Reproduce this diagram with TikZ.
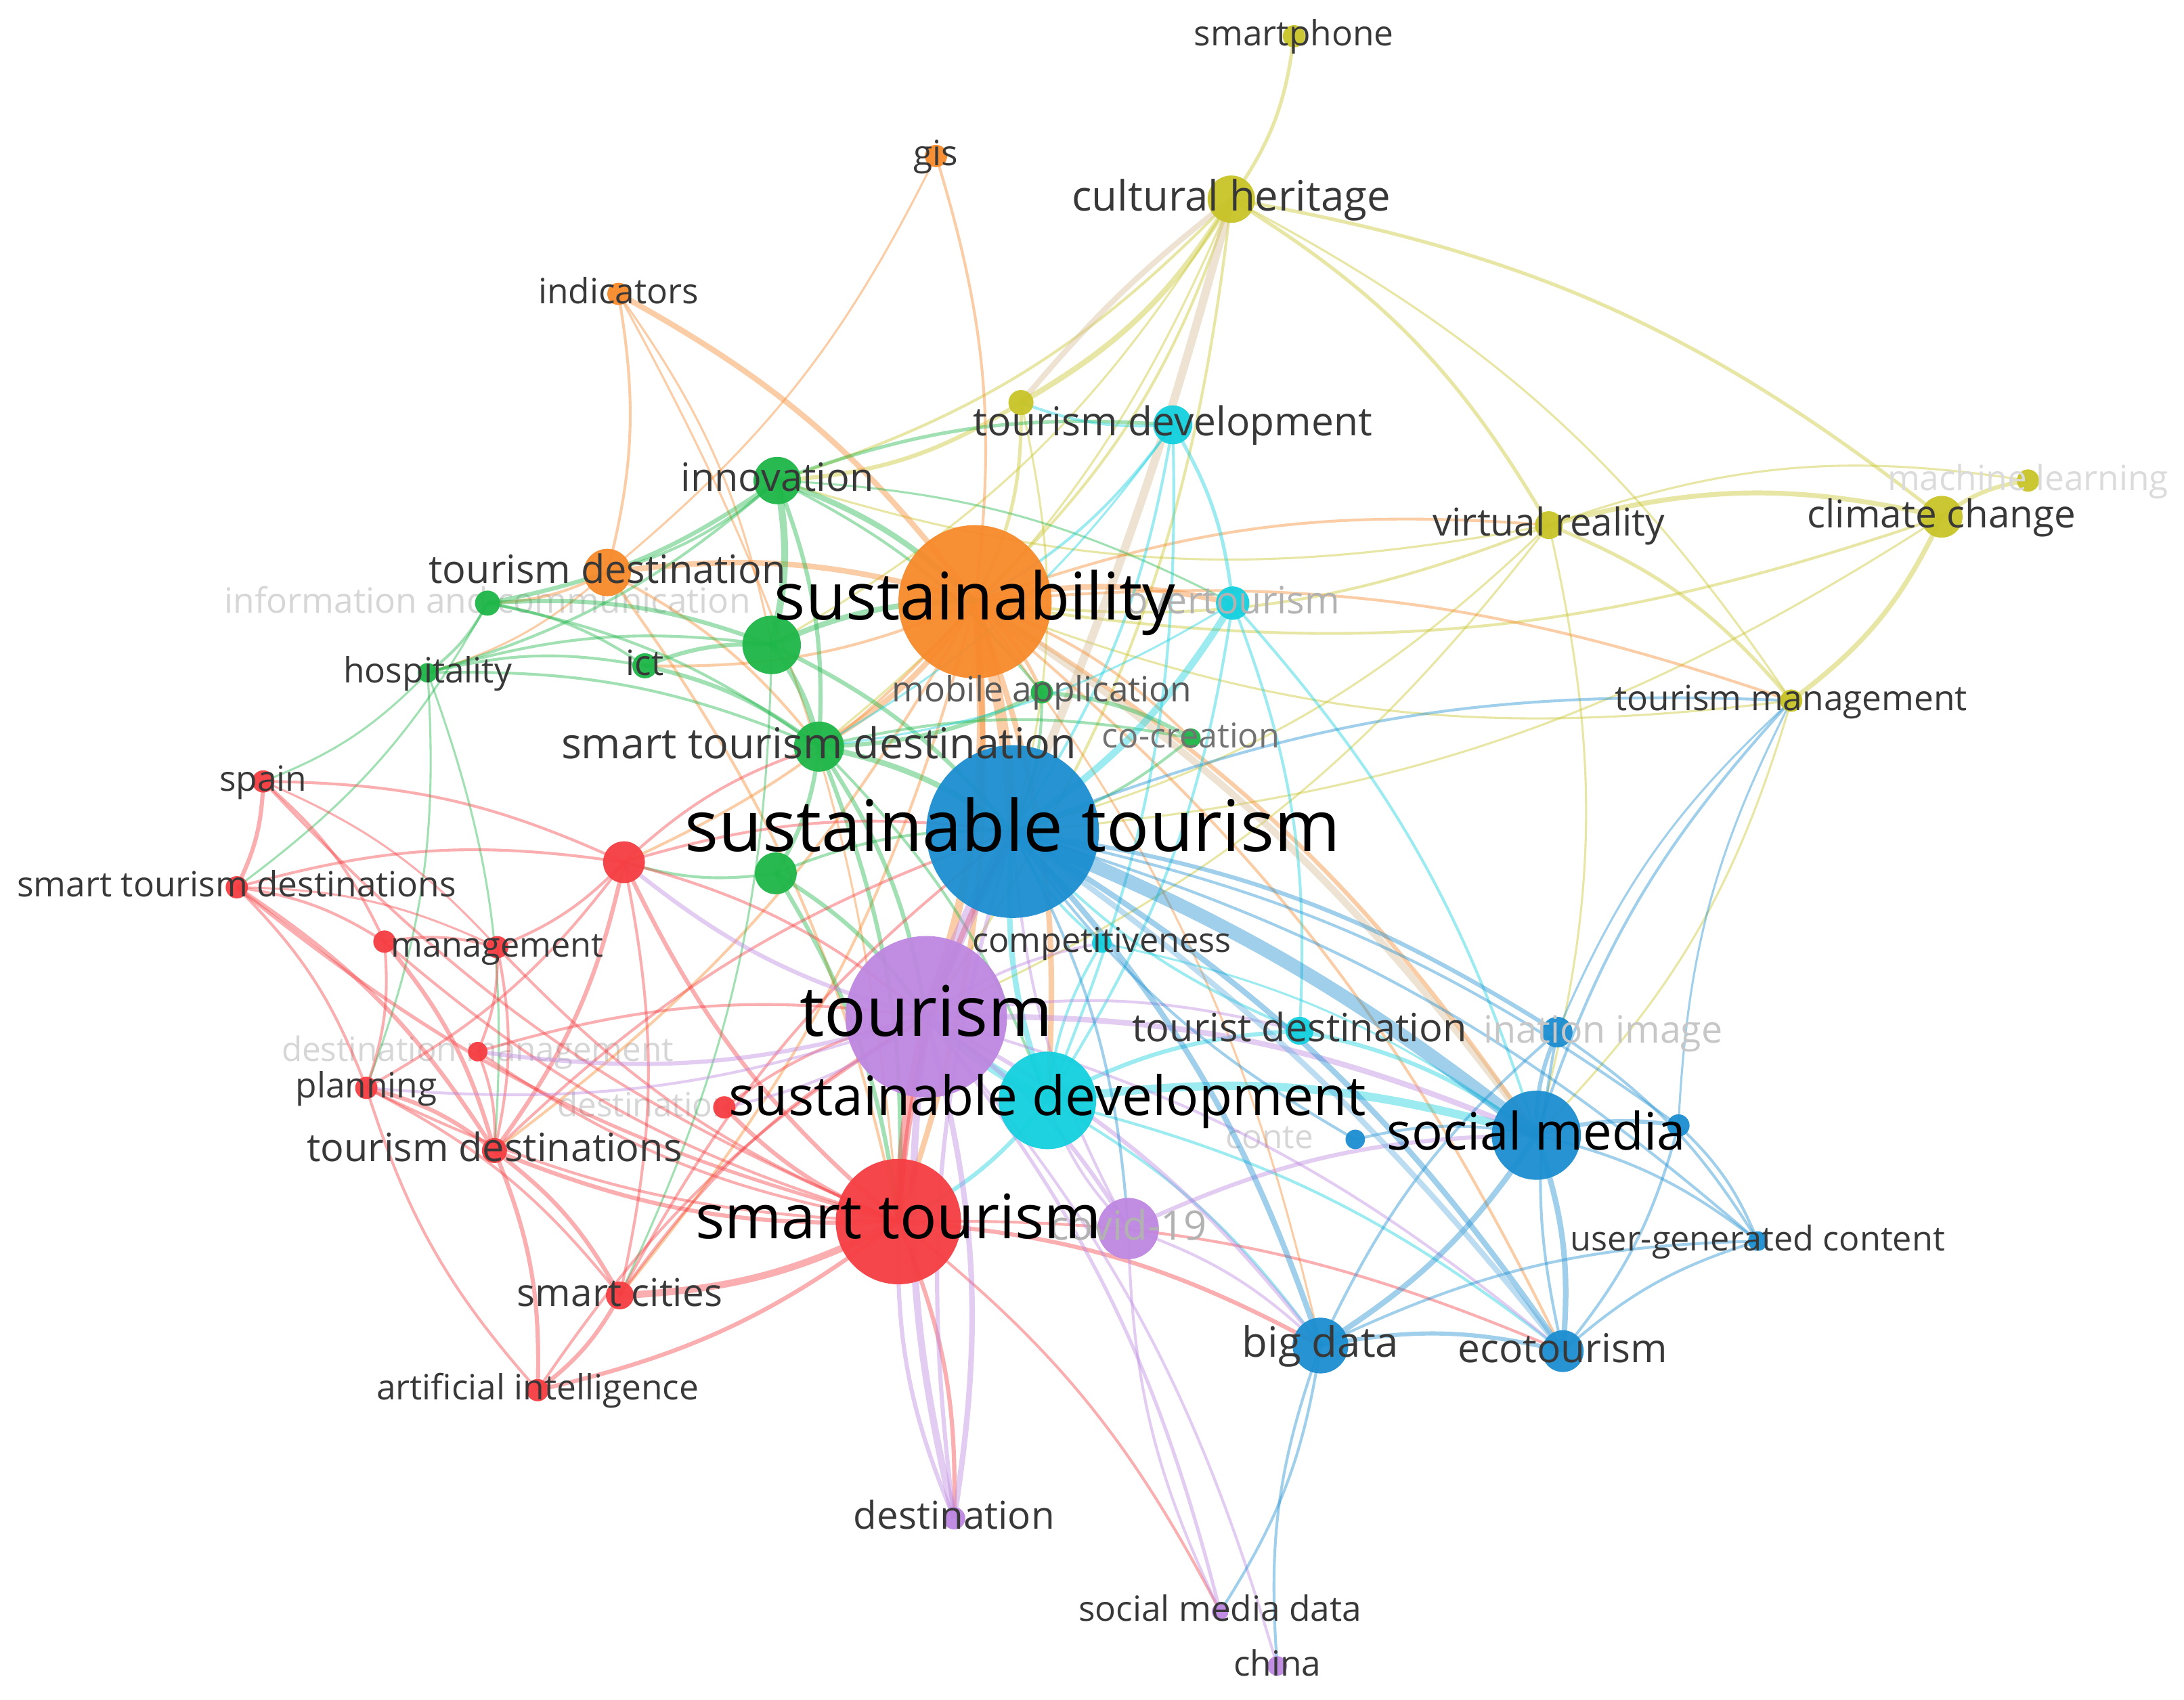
\documentclass[tikz,border=0pt]{standalone}
\usepackage{fontspec}
\setmainfont{Open Sans}
\definecolor{cOr}{RGB}{247,137,43}
\definecolor{cYe}{RGB}{200,196,40}
\definecolor{cCy}{RGB}{20,208,222}
\definecolor{cGr}{RGB}{30,182,72}
\definecolor{cRe}{RGB}{245,62,66}
\definecolor{cPu}{RGB}{190,135,225}
\definecolor{cBl}{RGB}{28,142,208}
\definecolor{cTan}{RGB}{215,190,150}
\newcommand\fsz[1]{\fontsize{#1pt}{#1pt}\selectfont}
\tikzset{
  dot/.style={circle,inner sep=0pt,fill=#1,draw=none},
  lab/.style={inner sep=0pt,text=black!78},
  biglab/.style={lab,text=black},
  fadelab/.style={lab,text=black!16},
  edge/.style={draw=#1,draw opacity=0.42},
}
% label macro: [style]{node}{size}{text}
\newcommand\lbl[4][lab]{\node[#1,font=\fsz{#3},anchor=base,yshift={-0.28*#3pt}] (#2-l) at (#2) {#4};}
\begin{document}
\begin{tikzpicture}[x=1pt,y=-1pt]
\useasboundingbox[fill=white] (0,0) rectangle (1568,1220);
% positions
\coordinate (sus) at (700,432);
\coordinate (stour) at (727,597);
\coordinate (tour) at (665,730);
\coordinate (smt) at (645,877);
\coordinate (sdev) at (752,790);
\coordinate (smed) at (1103,815);
\coordinate (ch) at (884,143);
\coordinate (td) at (842,305);
\coordinate (tdy) at (733,289);
\coordinate (vr) at (1112,377);
\coordinate (cc) at (1394,371);
\coordinate (ml) at (1456,345);
\coordinate (tm) at (1286,503);
\coordinate (sp) at (929,26);
\coordinate (gis) at (672,112);
\coordinate (ind) at (444,211);
\coordinate (tdest) at (436,411);
\coordinate (inn) at (558,345);
\coordinate (ict1) at (350,433);
\coordinate (hosp) at (307,483);
\coordinate (ict) at (463,478);
\coordinate (g1) at (554,463);
\coordinate (std) at (588,536);
\coordinate (mob) at (748,497);
\coordinate (cocr) at (855,530);
\coordinate (g2) at (557,627);
\coordinate (over) at (885,433);
\coordinate (comp) at (791,677);
\coordinate (tdn) at (933,740);
\coordinate (spain) at (189,561);
\coordinate (stds) at (170,637);
\coordinate (r1) at (448,619);
\coordinate (r2) at (276,676);
\coordinate (mgmt) at (357,680);
\coordinate (dm) at (343,755);
\coordinate (plan) at (263,781);
\coordinate (dmk) at (520,795);
\coordinate (tds) at (355,826);
\coordinate (sc) at (445,930);
\coordinate (ai) at (386,998);
\coordinate (covid) at (810,882);
\coordinate (dest) at (685,1090);
\coordinate (smd) at (876,1157);
\coordinate (china) at (917,1196);
\coordinate (dimg) at (1118,741);
\coordinate (cont) at (973,818);
\coordinate (b1) at (1205,808);
\coordinate (ugc) at (1262,891);
\coordinate (bd) at (948,966);
\coordinate (eco) at (1122,970);
\coordinate (dmkl) at (400,795);
\coordinate (contl) at (880,818);
\coordinate (dimgl) at (1237,741);

% faded labels (behind)
\lbl[fadelab]{ict1}{25}{information and communication}
\lbl[fadelab]{dm}{24}{destination management}
\node[fadelab,font=\fsz{24},anchor=base west,yshift=-6.7pt] (dmk-l) at (dmkl) {destination};
\node[fadelab,font=\fsz{24},anchor=base west,yshift=-6.7pt] (cont-l) at (contl) {conte};

% edges: yellow
\foreach \a/\b/\w in {sp/ch/2.5,ch/tdy/4,ch/sus/2,ch/vr/2.5,ch/cc/2.5,ch/tm/1.5,ch/inn/2,ch/std/1.5,ch/g1/1.5,ch/tour/2,vr/cc/3.5,vr/ml/1.5,vr/tm/2.5,vr/sus/2,vr/stour/1.5,cc/tm/3.5,cc/ml/3,cc/stour/1.5,tm/smed/1.5,vr/smed/1.5,tdy/sus/2.5,tdy/inn/3,tdy/stour/1.5,cc/sus/2,vr/tour/1.5,tm/sus/1.5,vr/inn/1.5}
  \draw[edge=cYe,line width=\w] (\a) to[bend left=14] (\b);
\draw[edge=cTan,line width=6] (ch) to[bend left=4] (stour);
\draw[edge=cTan,line width=4] (ch) to[bend right=6] (tdy);
% orange
\foreach \a/\b/\w in {gis/sus/2,gis/tdest/1.5,ind/sus/4,ind/tdest/2,ind/smt/1.5,ind/g1/1.5,tdest/sus/4,tdest/smt/2,sus/tour/6,sus/smt/4,sus/over/4,sus/vr/2,sus/mob/2.5,sus/sdev/4,sus/std/4,sus/ict/2,sus/sc/2,sus/tds/2,sus/smed/3,sus/cocr/2,sus/eco/2,sus/r1/2,tdest/ict1/2,tdest/hosp/1.5,tdest/std/2,sus/tm/2,sus/bd/1.5}
  \draw[edge=cOr,line width=\w] (\a) to[bend left=12] (\b);
\draw[edge=cOr,line width=8] (sus) to[bend left=6] (stour);
\draw[edge=cTan,line width=5] (sus) to[bend left=10] (smed);
% green
\foreach \a/\b/\w in {inn/g1/5,inn/std/3,inn/ict1/3,inn/hosp/2,inn/sus/4,inn/td/2.5,inn/tdest/2,ict1/g1/3,ict1/hosp/2,ict1/std/2,ict1/ict/2,hosp/std/2,hosp/g1/2,hosp/ict/2,g1/std/4,g1/sus/4,g1/stour/3,std/stour/4,std/smt/3,std/tour/3,std/g2/3,g2/tour/3,g2/smt/3,g2/stour/2,g2/r1/2,mob/std/3,mob/stour/2,mob/cocr/3,cocr/stour/2,std/sdev/2,ict/std/3,ict/g1/3,hosp/tds/1.5,ict1/stds/1.5,hosp/plan/1.5,inn/mob/2,hosp/spain/1.5,g1/sc/1.5,inn/over/1.5,std/cocr/2}
  \draw[edge=cGr,line width=\w] (\a) to[bend left=12] (\b);
% cyan
\foreach \a/\b/\w in {td/over/2.5,td/stour/2,td/sdev/2,over/stour/5,over/sdev/2,over/tdn/2,over/smed/2,sdev/stour/4,sdev/smt/3,sdev/smed/6,sdev/tdn/3,sdev/comp/2,comp/stour/2,tdn/smed/3,tdn/stour/2,td/sus/2,sdev/eco/2,sdev/bd/2,td/std/1.5,over/std/1.5,td/tdy/2,comp/smed/1.5}
  \draw[edge=cCy,line width=\w] (\a) to[bend left=12] (\b);
\draw[edge=cCy,line width=7] (sdev) to[bend left=6] (tour);
% red
\foreach \a/\b/\w in {smt/stour/4,smt/sc/5,smt/ai/3,smt/tds/3,smt/r1/3,smt/mgmt/2,smt/plan/2,smt/dm/2,smt/dmk/3,smt/spain/2,smt/stds/2.5,smt/bd/3,smt/dest/3,smt/smd/2,smt/r2/2,spain/stds/3,spain/r2/2,spain/r1/2,stds/r2/2,stds/tds/3,stds/r1/2,stds/plan/2,r1/mgmt/2,r1/tds/3,r1/sc/2,r1/tour/2,r1/stour/2,r2/mgmt/2,r2/tds/3,r2/plan/2,mgmt/dm/2,mgmt/tds/2,dm/tds/2,dm/tour/2,plan/tds/3,plan/sc/2,tds/sc/3,tds/ai/3,sc/ai/3,ai/tour/2,sc/tour/2,dmk/tour/2,tds/stour/2,r1/plan/2,sc/stour/2,ai/plan/2,smt/eco/2,r1/std/2,spain/mgmt/1.5,stds/mgmt/1.5}
  \draw[edge=cRe,line width=\w] (\a) to[bend left=12] (\b);
\draw[edge=cRe,line width=6] (smt) to[bend left=6] (tour);
% purple
\foreach \a/\b/\w in {tour/covid/3,tour/dest/4,tour/smd/2.5,tour/china/2,tour/smed/4,tour/bd/3,covid/smed/3,covid/bd/2,covid/stour/2,dest/stour/3,dest/smt/3,smd/covid/2,covid/sdev/2,tour/eco/2,tour/comp/2,tour/r1/3,tour/dm/3,tour/plan/2,tour/tdn/2,tour/dmk/2}
  \draw[edge=cPu,line width=\w] (\a) to[bend left=12] (\b);
\draw[edge=cPu,line width=10] (tour) to[bend left=4] (stour);
\draw[edge=cPu,line width=5] (tour) to[bend right=10] (dest);
% blue
\foreach \a/\b/\w in {stour/bd/4,stour/eco/4,stour/dimg/3,stour/ugc/2,stour/b1/2,smed/dimg/3,smed/b1/3,smed/ugc/2,smed/bd/4,smed/eco/4,bd/eco/3,bd/dimg/2,bd/ugc/2,eco/ugc/2,eco/dimg/2,dimg/ugc/2,b1/ugc/2,b1/eco/2,cont/stour/2,china/bd/2,bd/smd/2,stour/tm/2,smed/tm/2,dimg/tm/1.5,b1/tm/1.5,cont/smed/2,stour/covid/2}
  \draw[edge=cBl,line width=\w] (\a) to[bend left=12] (\b);
\draw[edge=cBl,line width=10] (stour) to[bend left=8] (smed);
\draw[edge=cBl!70!white,line width=4] (stour) to[bend left=8] (eco);

% node circles
\foreach \n/\r/\c in {sus/55/cOr,tdest/17/cOr,ind/8/cOr,gis/8/cOr,
  sp/8/cYe,ch/17/cYe,tdy/9/cYe,vr/10/cYe,cc/15/cYe,ml/8/cYe,tm/8/cYe,
  td/14/cCy,over/12/cCy,sdev/35/cCy,tdn/10/cCy,comp/7/cCy,
  inn/17/cGr,ict1/9/cGr,hosp/7/cGr,ict/9/cGr,g1/21/cGr,std/18/cGr,mob/8/cGr,cocr/7/cGr,g2/15/cGr,
  smt/45/cRe,spain/8/cRe,stds/8/cRe,r1/15/cRe,r2/8/cRe,mgmt/8/cRe,dm/7/cRe,plan/8/cRe,dmk/8/cRe,tds/9/cRe,sc/10/cRe,ai/8/cRe,
  tour/58/cPu,covid/22/cPu,dest/8/cPu,smd/6/cPu,china/7/cPu,
  stour/62/cBl,smed/32/cBl,dimg/11/cBl,cont/7/cBl,b1/8/cBl,ugc/7/cBl,bd/20/cBl,eco/15/cBl}
  \node[dot=\c,fill opacity=0.95,minimum size=2*\r] (\n-c) at (\n) {};

% faded labels on top of nodes
\lbl[fadelab,text=black!30]{over}{27}{overtourism}
\lbl[fadelab,text=black!30]{covid}{29}{covid-19}
\node[fadelab,text=black!22,font=\fsz{27},anchor=base east,yshift=-7.6pt] (dimg-l) at (dimgl) {ination image};
\lbl[fadelab,text=black!14]{ml}{25}{machine learning}

% labels
\lbl[biglab]{sus}{47}{sustainability}
\lbl[biglab]{stour}{51}{sustainable tourism}
\lbl[biglab]{tour}{50}{tourism}
\lbl[biglab]{smt}{44}{smart tourism}
\lbl[biglab]{sdev}{39}{sustainable development}
\lbl[biglab]{smed}{37}{social media}
\lbl{ch}{30}{cultural heritage}
\lbl{td}{28.5}{tourism development}
\lbl{inn}{28}{innovation}
\lbl{tdest}{28}{tourism destination}
\lbl{std}{30.5}{smart tourism destination}
\lbl{vr}{27.5}{virtual reality}
\lbl{cc}{27.5}{climate change}
\lbl{tdn}{28}{tourist destination}
\lbl{tds}{28}{tourism destinations}
\lbl{sc}{27.5}{smart cities}
\lbl{bd}{30}{big data}
\lbl{eco}{28.5}{ecotourism}
\lbl{dest}{27.5}{destination}
\lbl{plan}{25}{planning}
\lbl{sp}{25}{smartphone}
\lbl{gis}{25}{gis}
\lbl{ind}{25}{indicators}
\lbl{hosp}{25}{hospitality}
\lbl{ict}{25}{ict}
\lbl[lab,text=black!65]{mob}{25}{mobile application}
\lbl[lab,text=black!55]{cocr}{24.5}{co-creation}
\lbl{spain}{25}{spain}
\lbl{stds}{25}{smart tourism destinations}
\lbl{mgmt}{24.5}{management}
\lbl{comp}{24.5}{competitiveness}
\lbl{tm}{25}{tourism management}
\lbl{ugc}{24.5}{user-generated content}
\lbl{ai}{25}{artificial intelligence}
\lbl{smd}{25}{social media data}
\lbl{china}{25}{china}
\end{tikzpicture}
\end{document}
